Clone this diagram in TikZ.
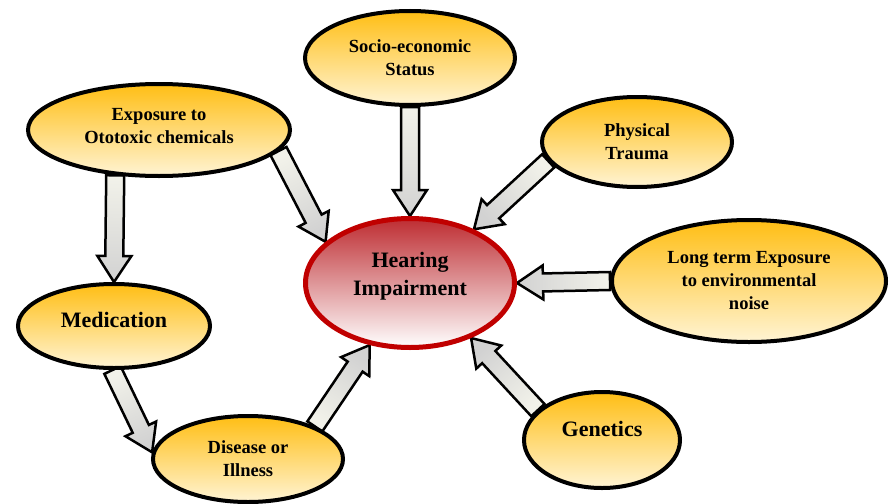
\documentclass[tikz,border=0pt]{standalone}
\usepackage{fontspec}
\setmainfont{Liberation Serif}
\usetikzlibrary{shapes.geometric,calc}
\definecolor{ytop}{RGB}{255,190,20}
\definecolor{ybot}{RGB}{255,244,212}
\definecolor{rtop}{RGB}{190,45,50}
\definecolor{rbot}{RGB}{255,255,255}
\definecolor{rborder}{RGB}{192,0,0}
\definecolor{atail}{RGB}{242,242,234}
\definecolor{ahead}{RGB}{210,210,210}
\pgfdeclarelayer{bg}
\pgfsetlayers{bg,main}
\tikzset{
  cause/.style={ellipse, draw=black, line width=4pt, top color=ytop, bottom color=ybot,
    inner sep=0pt, align=center, font=\bfseries\fontsize{18.5}{23}\selectfont},
  bigcause/.style={cause, font=\bfseries\fontsize{22}{28}\selectfont},
  hub/.style={ellipse, draw=rborder, line width=5pt, top color=rtop, bottom color=rbot,
    inner sep=0pt, align=center, font=\bfseries\fontsize{22}{28}\selectfont},
  blockarr/.style={draw=black, line width=2.5pt, line join=miter, top color=atail, bottom color=ahead}
}
\newcommand{\blockarrow}[2]{%
  \coordinate (ah) at ($(#2)!26pt!(#1)$);
  \path let \p1=(#1), \p2=(#2), \n1={atan2(\y2-\y1,\x2-\x1)+90} in \pgfextra{\xdef\arang{\n1}};
  \draw[blockarr, shading angle=\arang]
    ($(#1)!9pt!90:(#2)$) -- ($(ah)!9pt!90:(#2)$) -- ($(ah)!17pt!90:(#2)$) -- (#2)
    -- ($(ah)!17pt!-90:(#2)$) -- ($(ah)!9pt!-90:(#2)$) -- ($(#1)!9pt!-90:(#2)$) -- cycle;
}
\begin{document}
\begin{tikzpicture}[x=1pt, y=-1pt]
\useasboundingbox (0,0) rectangle (890,503);
\path
  (410,283) node[hub, minimum width=209pt, minimum height=129pt, text depth=19pt] (hear) {Hearing\\Impairment}
  (410,58)  node[cause, minimum width=210pt, minimum height=94pt] (socio) {Socio-economic\\Status}
  (159,130) node[cause, minimum width=262pt, minimum height=92pt, text depth=8pt] (expo) {Exposure to\\Ototoxic chemicals}
  (637,142) node[cause, minimum width=190pt, minimum height=90pt] (phys) {Physical\\Trauma}
  (749,281) node[cause, minimum width=274pt, minimum height=122pt] (long) {Long term Exposure\\to environmental\\noise}
  (114,326) node[bigcause, minimum width=192pt, minimum height=84pt, text depth=12pt] (med) {Medication}
  (248,459) node[cause, minimum width=190pt, minimum height=86pt] (dis) {Disease or\\Illness}
  (602,440) node[bigcause, minimum width=156pt, minimum height=96pt, text depth=22pt] (gen) {Genetics};
\begin{pgfonlayer}{bg}
\blockarrow{socio.south}{hear.north}
\blockarrow{phys.192}{hear.40}
\blockarrow{expo.-10}{hear.154}
\blockarrow{expo.226}{med.north}
\blockarrow{long.west}{hear.east}
\blockarrow{gen.155}{hear.-42}
\blockarrow{med.-92}{dis.176}
\blockarrow{dis.26}{hear.237}
\end{pgfonlayer}
\end{tikzpicture}
\end{document}
